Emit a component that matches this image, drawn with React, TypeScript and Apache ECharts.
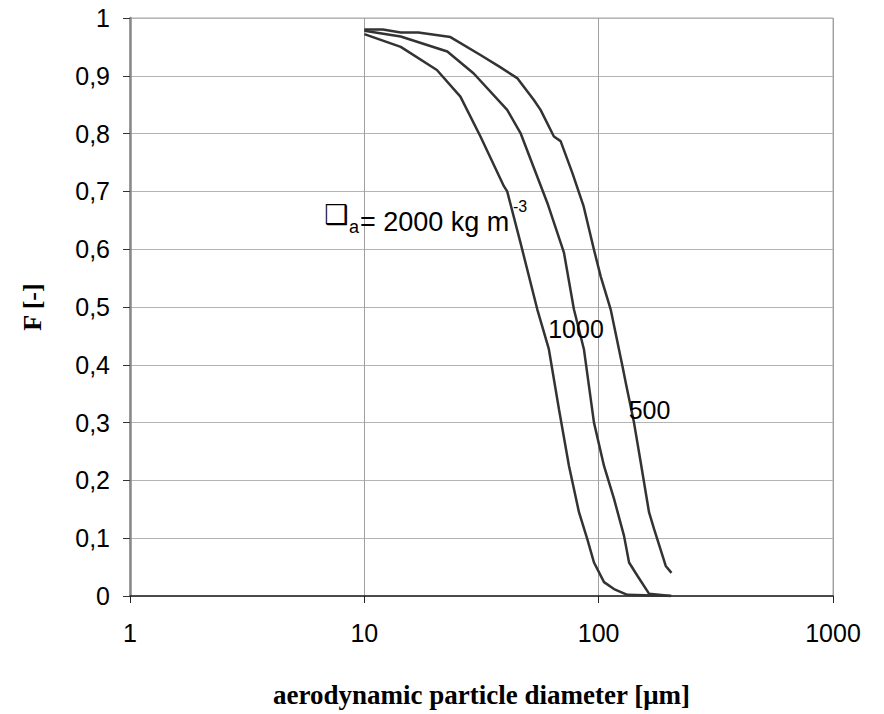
import React, { useEffect, useRef } from "react";
import * as echarts from "echarts";

// Density 2000 kg m^-3 curve: [diameter µm, F]
const curve2000: [number, number][] = [
  [10, 0.972], [14.3, 0.95], [20.4, 0.91], [25.7, 0.864], [31.3, 0.795],
  [39.4, 0.709], [40.7, 0.7], [46.4, 0.611], [54.7, 0.496], [61.3, 0.427],
  [67.7, 0.323], [74.7, 0.225], [82.4, 0.145], [89.5, 0.098], [95.5, 0.058],
  [105.4, 0.024], [116.3, 0.012], [132.5, 0.002], [204, 0],
];
// Density 1000
const curve1000: [number, number][] = [
  [10, 0.978], [14.3, 0.968], [22.6, 0.942], [29.3, 0.904], [40.7, 0.841],
  [46.4, 0.801], [60.4, 0.68], [71.1, 0.594], [78.4, 0.496], [86.5, 0.427],
  [95.5, 0.3], [105.4, 0.225], [116.3, 0.168], [128.3, 0.104], [134.8, 0.058],
  [146.3, 0.035], [164, 0.004], [204, 0],
];
// Density 500
const curve500: [number, number][] = [
  [10, 0.98], [12, 0.98], [14.3, 0.975], [17, 0.975], [23.3, 0.967],
  [31.3, 0.936], [38, 0.915], [44.9, 0.896], [52.9, 0.858], [56.5, 0.841],
  [64.4, 0.795], [68.8, 0.787], [77.2, 0.732], [86.3, 0.674], [95.5, 0.599],
  [102, 0.553], [112.5, 0.496], [126.3, 0.398], [130.5, 0.369], [141.5, 0.3],
  [151.2, 0.231], [164, 0.145], [172.3, 0.116], [193.3, 0.052], [204.5, 0.04],
];

const seriesNames = ["2000", "1000", "500"];
const xTitle = "aerodynamic particle diameter [μm]";
const yTitle = "F [-]";

const SERIF_BOLD = "Liberation Serif";
const REGULAR = "Liberation Sans";

export default function App() {
  const ref = useRef<HTMLDivElement>(null);
  useEffect(() => {
    if (!ref.current) return;
    const chart = echarts.init(ref.current, undefined, { renderer: "svg" });
    const lineStyle = { color: "#333", width: 2.5 };
    const txt = (x: number, y: number, text: string, fontSize: number, align = "left", family = REGULAR) => ({
      type: "text",
      x,
      y,
      z: 10,
      style: {
        text,
        fontFamily: family,
        fontSize,
        fill: "#000",
        align,
        verticalAlign: "middle",
      },
    });
    chart.setOption({
      animation: false,
      backgroundColor: "#fff",
      grid: {
        left: 130,
        right: 51,
        top: 18,
        bottom: 118,
        show: true,
        borderColor: "#a8a8a8",
        borderWidth: 1,
        outerBoundsMode: "none",
      },
      xAxis: {
        type: "log",
        logBase: 10,
        min: 1,
        max: 1000,
        name: xTitle,
        nameLocation: "middle",
        nameGap: 85,
        nameTextStyle: {
          fontFamily: SERIF_BOLD,
          fontWeight: "bold",
          fontSize: 27,
          color: "#000",
        },
        axisLine: { show: true, lineStyle: { color: "#222", width: 1.5 } },
        axisTick: { show: true, length: 7, lineStyle: { color: "#222", width: 1 } },
        minorTick: { show: false },
        splitLine: { show: true, lineStyle: { color: "#a0a0a0", width: 1 } },
        axisLabel: {
          fontFamily: REGULAR,
          fontSize: 25,
          color: "#000",
          margin: 24,
          formatter: (v: number) => String(Math.round(v)),
        },
      },
      yAxis: {
        type: "value",
        min: 0,
        max: 1,
        interval: 0.1,
        name: yTitle,
        nameLocation: "middle",
        nameGap: 85,
        nameRotate: 90,
        nameTextStyle: {
          fontFamily: SERIF_BOLD,
          fontWeight: "bold",
          fontSize: 26,
          color: "#000",
        },
        axisLine: { show: true, lineStyle: { color: "#888", width: 2.5 } },
        axisTick: { show: true, length: 7, lineStyle: { color: "#333", width: 1 } },
        splitLine: { show: true, lineStyle: { color: "#b4b4b4", width: 1 } },
        axisLabel: {
          fontFamily: REGULAR,
          fontSize: 25,
          color: "#000",
          margin: 20,
          formatter: (v: number) => {
            const r = Math.round(v * 10) / 10;
            if (r === 0) return "0";
            if (r === 1) return "1";
            return r.toFixed(1).replace(".", ",");
          },
        },
      },
      series: [curve2000, curve1000, curve500].map((d, i) => ({
        name: seriesNames[i],
        type: "line",
        data: d,
        showSymbol: false,
        symbol: "none",
        smooth: false,
        lineStyle,
        z: 3,
      })),
      graphic: [
        txt(336, 214, "❑", 27, "center", "DejaVu Sans"),
        txt(349, 227, "a", 18, "left"),
        txt(360, 222, "= 2000 kg m", 27, "left"),
        txt(513, 206, "-3", 16, "left"),
        txt(576, 329, "1000", 25, "center"),
        txt(649.5, 410, "500", 25, "center"),
      ],
    });
    return () => chart.dispose();
  }, []);
  return (
    <div
      ref={ref}
      style={{ position: "fixed", left: 0, top: 0, width: 884, height: 714, background: "#fff" }}
    />
  );
}
